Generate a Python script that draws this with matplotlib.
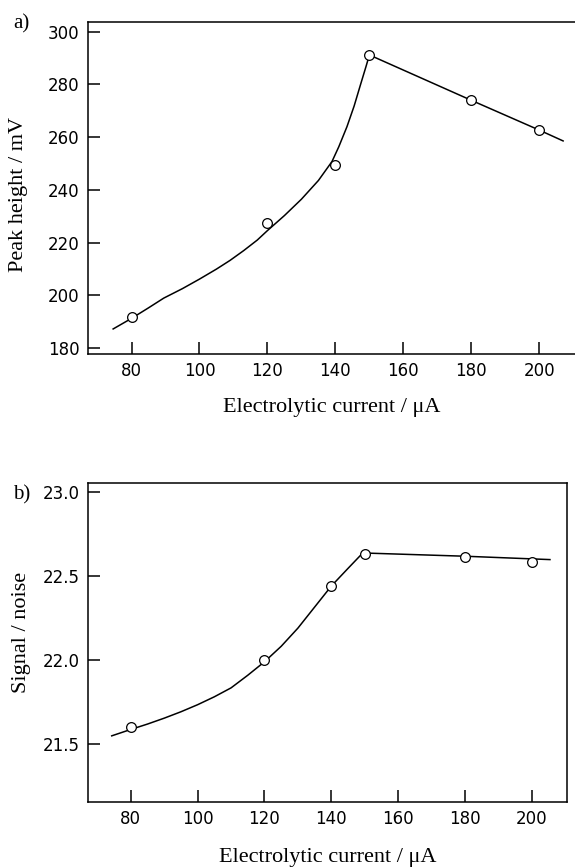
import numpy as np
import matplotlib
matplotlib.use('Agg')
import matplotlib.pyplot as plt

plt.rcParams['font.family'] = ['DejaVu Sans']

# measured points
current = [80, 120, 140, 150, 180, 200]
peak_height = [192.0, 227.5, 249.5, 291.0, 274.0, 262.6]
signal_noise = [21.605, 22.0, 22.44, 22.63, 22.61, 22.585]

# fitted curves
fit_a_x = [74.6, 80, 85, 89.5, 95, 100, 105, 109, 113, 117, 120, 125, 130, 135, 139, 141,
           143.4, 145.5, 147.4, 149, 150, 180, 200, 207]
fit_a_y = [187.3, 191.3, 195.3, 199.0, 202.6, 206.2, 210.0, 213.3, 217.0, 221.0, 224.6, 230.3,
           236.5, 243.6, 250.8, 256.4, 264.0, 271.8, 280.0, 286.8, 291.2, 274.0, 262.7, 258.6]
fit_b_x = [74.3, 80, 85, 90, 95, 100, 105, 110, 115, 120, 125, 130, 135, 140, 145, 149, 150,
           180, 205.4]
fit_b_y = [21.55, 21.588, 21.62, 21.655, 21.693, 21.735, 21.782, 21.835, 21.91, 21.99, 22.082,
           22.19, 22.315, 22.44, 22.545, 22.628, 22.636, 22.617, 22.597]

xticks = [80, 100, 120, 140, 160, 180, 200]
yticks_a = [180, 200, 220, 240, 260, 280, 300]
yticks_b = [21.5, 22.0, 22.5, 23.0]

serif = 'Liberation Serif'
W, H = 575, 868
fig = plt.figure(figsize=(W / 100, H / 100), dpi=100)

ax1 = fig.add_axes([88 / W, 1 - 354 / H, 487 / W, 332 / H])
ax2 = fig.add_axes([88 / W, 1 - 802 / H, 479 / W, 319 / H])


def style(ax):
    for s in ax.spines.values():
        s.set_linewidth(1.1)
    ax.tick_params(direction='in', length=8.5, width=1.1, labelsize=12, pad=6,
                   top=False, right=False)
    ax.set_xticks(xticks)
    ax.set_xlim(67.2, 210.5)


style(ax1)
ax1.spines['right'].set_visible(False)
ax1.plot(fit_a_x, fit_a_y, color='black', lw=1.1, zorder=2)
ax1.plot(current, peak_height, 'o', ms=7, mfc='white', mec='black', mew=0.9, zorder=3)
ax1.set_yticks(yticks_a)
ax1.set_ylim(177.8, 303.7)
ax1.set_xlabel('Electrolytic current / μA', family=serif, fontsize=16, labelpad=13)
ax1.set_ylabel('Peak height / mV', family=serif, fontsize=16, va='center')
ax1.yaxis.set_label_coords(-0.142, 0.48)

style(ax2)
ax2.plot(fit_b_x, fit_b_y, color='black', lw=1.1, zorder=2)
ax2.plot(current, signal_noise, 'o', ms=7, mfc='white', mec='black', mew=0.9, zorder=3)
ax2.set_yticks(yticks_b)
ax2.set_yticklabels([f'{v:.1f}' for v in yticks_b])
ax2.set_ylim(21.157, 23.052)
ax2.set_xlabel('Electrolytic current / μA', family=serif, fontsize=16, labelpad=14)
ax2.set_ylabel('Signal / noise', family=serif, fontsize=16, va='center')
ax2.yaxis.set_label_coords(-0.138, 0.53)

fig.text(13 / W, 1 - 24 / H, 'a)', family=serif, fontsize=15, va='center', ha='left')
fig.text(13 / W, 1 - 495 / H, 'b)', family=serif, fontsize=15, va='center', ha='left')

fig.savefig('out.png', dpi=100)
